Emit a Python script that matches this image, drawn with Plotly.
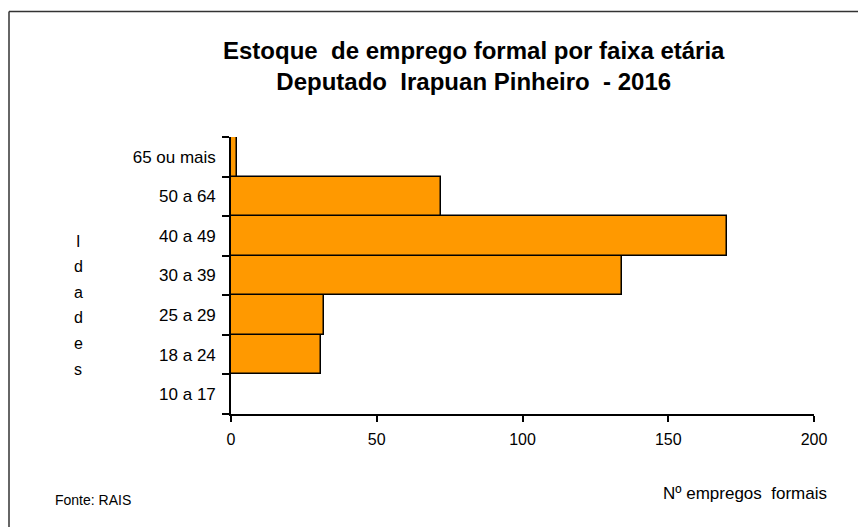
import plotly.graph_objects as go

categorias = ["10 a 17", "18 a 24", "25 a 29", "30 a 39", "40 a 49", "50 a 64", "65 ou mais"]
empregos = [0, 31, 32, 134, 170, 72, 2]
x_ticks = [0, 50, 100, 150, 200]
rotulo_y = "Idades"

OFF = 8  # page body margin
W, H = 866 - OFF, 527 - OFF
L, R, T, B = 231 - OFF, 814 - OFF, 137 - OFF, 414 - OFF

def px(x):
    return (x - OFF - L) / (R - L)

def py(y):
    return (B - (y - OFF)) / (B - T)

FONT = "Liberation Sans, Arial, sans-serif"

fig = go.Figure(go.Bar(
    x=empregos, y=categorias, orientation="h",
    marker=dict(color="#FF9900", line=dict(color="#000000", width=1.5)),
))

annotations = [
    dict(text="<b>Estoque  de emprego formal por faixa etária<br>Deputado  Irapuan Pinheiro  - 2016</b>",
         xref="paper", yref="paper", x=px(474), y=py(66), xanchor="center", yanchor="middle",
         showarrow=False, align="center",
         font=dict(size=24, family=FONT, color="#000000")),
    dict(text="Fonte: RAIS", xref="paper", yref="paper",
         x=px(53), y=py(500), xanchor="left", yanchor="middle",
         showarrow=False, font=dict(size=14, family=FONT, color="#000000")),
    dict(text="Nº empregos  formais", xref="paper", yref="paper",
         x=px(829), y=py(493), xanchor="right", yanchor="middle",
         showarrow=False, font=dict(size=17, family=FONT, color="#000000")),
]
for i, ch in enumerate(rotulo_y):
    annotations.append(dict(
        text=ch, xref="paper", yref="paper",
        x=px(78), y=py(241 + i * 25.6), xanchor="center", yanchor="middle",
        showarrow=False, font=dict(size=16, family=FONT, color="#000000")))

fig.update_layout(
    width=W, height=H,
    margin=dict(l=L, r=W - R, t=T, b=H - B),
    paper_bgcolor="white", plot_bgcolor="white",
    bargap=0, showlegend=False,
    font=dict(family=FONT, color="#000000"),
    xaxis=dict(
        range=[0, 200], tickvals=x_ticks, showgrid=False, zeroline=False,
        showline=True, linecolor="#000000", linewidth=1.5,
        ticks="outside", ticklen=6, tickwidth=1.5, tickcolor="#000000",
        tickfont=dict(size=16, family=FONT, color="#000000"),
        ticklabelstandoff=4,
    ),
    yaxis=dict(
        categoryorder="array", categoryarray=categorias,
        showgrid=False, zeroline=False,
        showline=True, linecolor="#000000", linewidth=1.5,
        ticks="outside", tickson="boundaries", ticklen=7, tickwidth=1.5, tickcolor="#000000",
        tickfont=dict(size=17, family=FONT, color="#000000"),
        ticklabelstandoff=10,
    ),
    shapes=[
        dict(type="line", xref="paper", yref="paper",
             x0=px(9), x1=px(9), y0=py(540), y1=py(11.5),
             line=dict(color="#333333", width=1.5)),
        dict(type="line", xref="paper", yref="paper",
             x0=px(9), x1=px(880), y0=py(11.5), y1=py(11.5),
             line=dict(color="#333333", width=1.5)),
    ],
    annotations=annotations,
)

fig.write_html("out.html")
